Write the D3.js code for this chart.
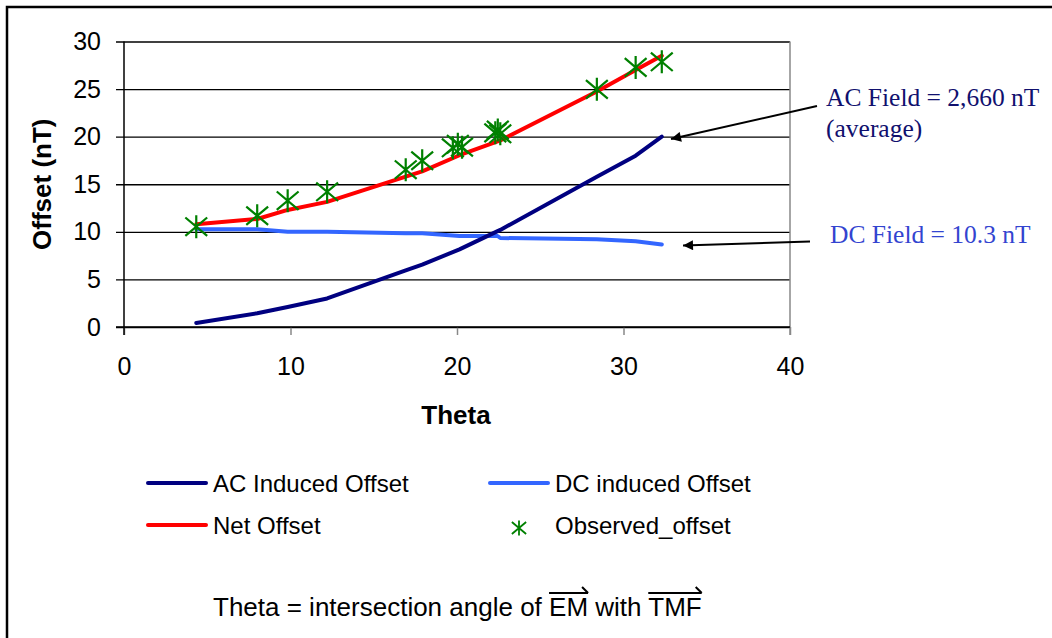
<!DOCTYPE html>
<html>
<head>
<meta charset="utf-8">
<script src="https://cdn.jsdelivr.net/npm/d3@7"></script>
<style>
  body { margin: 0; background: #fff; }
  svg { display: block; }
  text { font-family: "Liberation Sans", Arial, sans-serif; }
</style>
</head>
<body>
<div id="chart"></div>
<script>
// theta values shared by the three model curves
var theta = [4.34, 8.0, 9.83, 12.2, 16.92, 17.91, 20.15, 22.44, 22.6, 28.4, 30.73, 32.3];
var acOffset  = [0.42, 1.44, 2.1, 3.0, 5.94, 6.55, 8.16, 10.08, 10.2, 15.8, 18.0, 20.0];
var dcOffset  = [10.26, 10.26, 10.0, 10.0, 9.85, 9.84, 9.56, 9.56, 9.35, 9.22, 9.0, 8.68];
var netOffset = [10.8, 11.35, 12.3, 13.15, 15.8, 16.35, 18.05, 19.5, 19.6, 24.75, 27.0, 28.5];

// observed points
var thetaObs = [4.34, 8.0, 9.83, 12.2, 16.92, 17.91, 19.75, 20.05, 20.3, 22.3, 22.45, 22.6, 28.4, 30.73, 32.3];
var observed = [10.54, 11.69, 13.27, 14.21, 16.53, 17.47, 18.83, 19.2, 18.9, 20.4, 20.7, 20.3, 24.97, 27.28, 27.87];

var xTicks = [0, 10, 20, 30, 40];
var yTicks = [0, 5, 10, 15, 20, 25, 30];

var legendItems = [
  {name: "AC Induced Offset", color: "#000080", type: "line"},
  {name: "DC induced Offset", color: "#3366ff", type: "line"},
  {name: "Net Offset", color: "#ff0000", type: "line"},
  {name: "Observed_offset", color: "#008000", type: "star"}
];

var W = 1052, H = 638;
var svg = d3.select("#chart").append("svg")
    .attr("width", W)
    .attr("height", H);

// outer frame (runs off the right and bottom edge)
svg.append("rect")
    .attr("x", 7).attr("y", 7)
    .attr("width", 1100).attr("height", 700)
    .attr("fill", "#fff")
    .attr("stroke", "#000")
    .attr("stroke-width", 2.5);

var x = d3.scaleLinear().domain([0, 40]).range([124, 790]);
var y = d3.scaleLinear().domain([0, 30]).range([327, 41.5]);

// gridlines + y ticks
var yAxis = d3.axisLeft(y).tickValues(yTicks).tickSize(-(790 - 116)).tickSizeOuter(0).tickPadding(15);
var gy = svg.append("g").attr("transform", "translate(116,0)").call(yAxis);
gy.select(".domain").remove();
gy.selectAll(".tick line").attr("stroke", "#000").attr("stroke-width", 1.3);
gy.selectAll(".tick text").attr("font-size", 25).attr("fill", "#000")
    .style("font-family", "'Liberation Sans', Arial, sans-serif");

// x axis ticks (gray, downwards)
var xAxis = d3.axisBottom(x).tickValues(xTicks).tickSize(8).tickSizeOuter(0).tickPadding(22);
var gx = svg.append("g").attr("transform", "translate(0,327)").call(xAxis);
gx.select(".domain").remove();
gx.selectAll(".tick line").attr("stroke", "#888").attr("stroke-width", 1.5);
gx.selectAll(".tick text").attr("font-size", 25).attr("fill", "#000")
    .style("font-family", "'Liberation Sans', Arial, sans-serif");

// plot borders
svg.append("line").attr("x1", 790).attr("x2", 790).attr("y1", y(30)).attr("y2", 335)
    .attr("stroke", "#888").attr("stroke-width", 1.5);
svg.append("line").attr("x1", 124).attr("x2", 124).attr("y1", y(30)).attr("y2", 335)
    .attr("stroke", "#000").attr("stroke-width", 1.5);
svg.append("line").attr("x1", 116).attr("x2", 790).attr("y1", y(0)).attr("y2", y(0))
    .attr("stroke", "#000").attr("stroke-width", 1.5);

// axis titles
svg.append("text")
    .attr("transform", "translate(51," + y(15) + ") rotate(-90)")
    .attr("text-anchor", "middle")
    .attr("font-size", 26).attr("font-weight", "bold")
    .text("Offset (nT)");
svg.append("text")
    .attr("x", 456).attr("y", 424)
    .attr("text-anchor", "middle")
    .attr("font-size", 26).attr("font-weight", "bold")
    .text("Theta");

// curves
var line = d3.line()
    .x(function(d) { return x(d[0]); })
    .y(function(d) { return y(d[1]); });

var curves = [
  {vals: dcOffset, color: "#3366ff"},
  {vals: acOffset, color: "#000080"},
  {vals: netOffset, color: "#ff0000"}
];
curves.forEach(function(c) {
  svg.append("path")
      .datum(theta.map(function(t, i) { return [t, c.vals[i]]; }))
      .attr("d", line)
      .attr("fill", "none")
      .attr("stroke", c.color)
      .attr("stroke-width", 4)
      .attr("stroke-linejoin", "round")
      .attr("stroke-linecap", "round");
});

// star marker: vertical bar + X
var starPath = function(r) {
  var a = r * 0.95, b = r * 0.8;
  return "M0," + (-r) + "L0," + r +
         "M" + (-a) + "," + (-b) + "L" + a + "," + b +
         "M" + (-a) + "," + b + "L" + a + "," + (-b);
};

svg.append("g").selectAll("path")
    .data(thetaObs.map(function(t, i) { return [t, observed[i]]; }))
    .enter().append("path")
    .attr("transform", function(d) { return "translate(" + x(d[0]) + "," + y(d[1]) + ")"; })
    .attr("d", starPath(11.5))
    .attr("fill", "none")
    .attr("stroke", "#008000")
    .attr("stroke-width", 2.2);

// annotations
var defs = svg.append("defs");
defs.append("marker")
    .attr("id", "arr")
    .attr("viewBox", "0 0 10 10")
    .attr("refX", 10).attr("refY", 5)
    .attr("markerWidth", 13).attr("markerHeight", 10)
    .attr("markerUnits", "userSpaceOnUse")
    .attr("orient", "auto")
  .append("path")
    .attr("d", "M0,0L10,5L0,10z")
    .attr("fill", "#000");

svg.append("line")
    .attr("x1", 817).attr("y1", 106).attr("x2", 671).attr("y2", 139)
    .attr("stroke", "#000").attr("stroke-width", 2)
    .attr("marker-end", "url(#arr)");
svg.append("line")
    .attr("x1", 810).attr("y1", 241.5).attr("x2", 683).attr("y2", 245.5)
    .attr("stroke", "#000").attr("stroke-width", 2)
    .attr("marker-end", "url(#arr)");

var serif = "'Liberation Serif', 'Times New Roman', serif";
svg.append("text").attr("x", 826).attr("y", 106)
    .attr("font-size", 25.5).style("font-family", serif).attr("fill", "#10106e")
    .text("AC Field = 2,660 nT");
svg.append("text").attr("x", 826).attr("y", 137)
    .attr("font-size", 25.5).style("font-family", serif).attr("fill", "#10106e")
    .text("(average)");
svg.append("text").attr("x", 830).attr("y", 243)
    .attr("font-size", 25.5).style("font-family", serif).attr("fill", "#3344d0")
    .text("DC Field = 10.3 nT");

// legend
var legPos = [[148, 483], [490, 483], [148, 525], [490, 525]];
legendItems.forEach(function(item, i) {
  var p = legPos[i];
  var g = svg.append("g").attr("transform", "translate(" + p[0] + "," + p[1] + ")");
  if (item.type === "line") {
    g.append("line").attr("x1", 0).attr("x2", 58).attr("y1", 0).attr("y2", 0)
        .attr("stroke", item.color).attr("stroke-width", 4).attr("stroke-linecap", "round");
  } else {
    g.append("path").attr("transform", "translate(29,3)")
        .attr("d", starPath(7.5)).attr("fill", "none")
        .attr("stroke", item.color).attr("stroke-width", 1.8);
  }
  g.append("text").attr("x", 65).attr("y", 9)
      .attr("font-size", 24).text(item.name);
});

// footnote with vector arrows over EM and TMF
var str = "Theta = intersection angle of EM with TMF";
var note = svg.append("text")
    .attr("x", 213).attr("y", 616)
    .attr("font-size", 26)
    .text(str);
var node = note.node();
["EM", "TMF"].forEach(function(w) {
  var idx = str.indexOf(w);
  var x0 = 213 + node.getSubStringLength(0, idx);
  var x1 = x0 + node.getSubStringLength(idx, w.length);
  var yy = 616 - 23;
  svg.append("path")
      .attr("d", "M" + x0 + "," + yy + "L" + x1 + "," + yy + "M" + (x1 - 6) + "," + (yy - 6) + "L" + x1 + "," + yy)
      .attr("fill", "none").attr("stroke", "#000").attr("stroke-width", 2);
});
</script>
</body>
</html>
